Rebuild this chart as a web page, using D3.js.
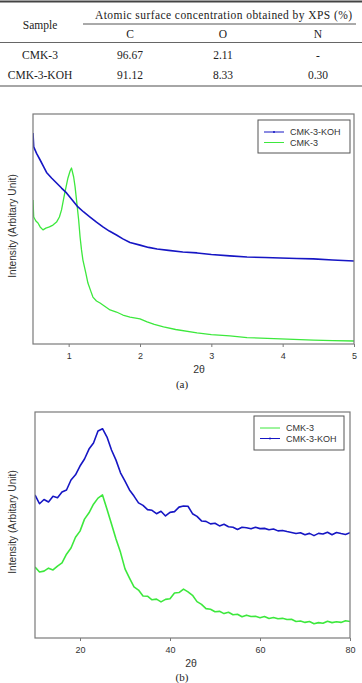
<!DOCTYPE html>
<html>
<head>
<meta charset="utf-8">
<script src="https://cdn.jsdelivr.net/npm/d3@7"></script>
<style>
  body { margin: 0; background: #fff; }
  svg { display: block; }
</style>
</head>
<body>
<div class="container"></div>
<script>
// table
var tableHead = ['C', 'O', 'N'];
var tableRows = [
  ['CMK-3', '96.67', '2.11', '-'],
  ['CMK-3-KOH', '91.12', '8.33', '0.30']
];

// (a) low angle XRD
var aTheta = [0.50, 0.51, 0.55, 0.60, 0.65, 0.69, 0.76, 0.83, 0.90, 0.97, 1.05, 1.13, 1.21, 1.30, 1.39, 1.48, 1.57, 1.67, 1.76, 1.86,
              2.00, 2.12, 2.24, 2.40, 2.60, 2.80, 3.00, 3.26, 3.50, 3.75, 3.97, 4.20, 4.43, 4.70, 5.00];
var aKoh = [91.7, 85.7, 82.9, 80.0, 77.0, 74.6, 72.2, 70.0, 67.8, 65.7, 62.6, 59.6, 57.4, 55.2, 53.0, 50.9, 49.1, 47.4, 45.7, 44.1,
            43.0, 42.0, 41.3, 40.7, 40.0, 39.6, 38.9, 38.3, 37.8, 37.6, 37.4, 37.2, 37.0, 36.5, 36.1];
var aThetaCmk = [0.50, 0.51, 0.54, 0.57, 0.60, 0.64, 0.68, 0.73, 0.78, 0.83, 0.87, 0.90, 0.94, 0.99, 1.02, 1.04, 1.07, 1.09, 1.11, 1.14,
                 1.16, 1.18, 1.20, 1.24, 1.27, 1.31, 1.34, 1.39, 1.44, 1.50, 1.58, 1.67, 1.76, 1.86, 2.00, 2.10, 2.20, 2.33, 2.50,
                 2.80, 3.00, 3.26, 3.50, 3.97, 4.43, 4.70, 5.00];
var aCmk = [62.6, 55.2, 53.5, 52.6, 50.9, 49.6, 50.4, 50.9, 51.7, 53.0, 55.2, 58.3, 64.8, 72.2, 75.2, 76.5, 72.6, 68.3, 62.6, 53.9,
            46.5, 40.9, 36.5, 30.9, 26.5, 23.0, 20.4, 18.7, 17.8, 16.5, 14.8, 13.9, 12.6, 11.7, 10.9, 9.6, 8.5, 7.4, 6.3,
            4.8, 4.1, 3.5, 2.8, 2.2, 1.7, 1.5, 1.3];
var aTicks = [1, 2, 3, 4, 5];

// (b) wide angle XRD
var bTheta = d3.range(10, 81);
var bCmk = [31.4, 29.2, 29.6, 30.9, 30.1, 31.8, 33.2, 37.1, 39.8, 44.6, 47.3, 52.6, 55.4, 59.2, 61.9, 63.3, 57.0, 50.4, 43.8, 37.9,
            30.6, 26.5, 22.6, 21.2, 18.6, 18.5, 16.9, 17.2, 16.0, 17.1, 17.4, 19.9, 20.1, 21.6, 20.4, 18.9, 16.1, 14.9, 13.0, 12.7,
            11.6, 11.8, 10.8, 11.4, 10.3, 10.5, 9.4, 10.1, 9.5, 9.6, 9.0, 9.5, 8.6, 9.1, 8.5, 8.7, 8.2, 8.3, 7.3, 7.5,
            6.9, 7.3, 6.3, 6.8, 6.5, 7.4, 6.8, 7.2, 6.9, 7.6, 7.3];
var bKoh = [63.3, 59.4, 61.3, 60.2, 62.7, 62.1, 64.6, 65.5, 69.9, 72.2, 76.1, 79.2, 83.6, 86.3, 91.6, 92.6, 88.9, 83.2, 78.7, 73.1,
            69.4, 65.5, 62.8, 59.8, 58.7, 56.8, 56.5, 55.0, 56.1, 54.0, 55.6, 55.9, 57.9, 58.4, 58.3, 55.0, 53.8, 51.8, 51.6, 50.5,
            50.8, 49.6, 50.3, 49.2, 49.0, 48.0, 49.0, 48.8, 48.3, 49.0, 48.4, 48.5, 47.9, 48.2, 47.4, 47.6, 47.1, 46.7, 46.2, 46.6,
            45.7, 46.3, 45.3, 46.3, 46.0, 46.8, 45.7, 46.7, 46.2, 45.8, 46.6];
var bTicks = [20, 40, 60, 80];

var blue = '#1616c4', green = '#3de83d', frame = '#7a7a7a';

var W = 362, H = 683;
var svg = d3.select('.container').append('svg')
    .attr('width', W).attr('height', H);

// ---- table ----
var serif = '"Liberation Serif", "Times New Roman", serif';
var colX = [40, 130, 223, 318];
svg.append('line').attr('x1', 0).attr('x2', W).attr('y1', 1.5).attr('y2', 1.5)
    .attr('stroke', '#444').attr('stroke-width', 2);
svg.append('line').attr('x1', 83).attr('x2', 356).attr('y1', 24).attr('y2', 24)
    .attr('stroke', '#555').attr('stroke-width', 1);
svg.append('line').attr('x1', 0).attr('x2', W).attr('y1', 42.5).attr('y2', 42.5)
    .attr('stroke', '#666').attr('stroke-width', 1);
svg.append('line').attr('x1', 0).attr('x2', W).attr('y1', 86).attr('y2', 86)
    .attr('stroke', '#888').attr('stroke-width', 1.5);

svg.append('text').attr('x', colX[0]).attr('y', 29)
    .attr('text-anchor', 'middle').attr('font-family', serif).attr('font-size', 11.5).attr('fill', '#222')
    .text('Sample');
svg.append('text').attr('x', 95).attr('y', 18.5)
    .attr('font-family', serif).attr('font-size', 11.5).attr('fill', '#222')
    .attr('textLength', 257).attr('lengthAdjust', 'spacing')
    .text('Atomic surface concentration obtained by XPS (%)');
svg.selectAll('.th').data(tableHead).enter().append('text')
    .attr('x', function(d, i) { return colX[i + 1]; }).attr('y', 38)
    .attr('text-anchor', 'middle').attr('font-family', serif).attr('font-size', 11.5).attr('fill', '#222')
    .text(function(d) { return d; });
tableRows.forEach(function(row, r) {
  svg.selectAll('.r' + r).data(row).enter().append('text')
      .attr('x', function(d, i) { return colX[i]; }).attr('y', 59 + r * 20)
      .attr('text-anchor', 'middle').attr('font-family', serif).attr('font-size', 11.5).attr('fill', '#222')
      .text(function(d) { return d; });
});

// ---- chart helper ----
var sans = '"Liberation Sans", Arial, sans-serif';
function drawPanel(opt) {
  var x = d3.scaleLinear().domain(opt.xDomain).range([opt.left, opt.right]);
  var y = d3.scaleLinear().domain([0, 100]).range([opt.bottom, opt.top]);
  var g = svg.append('g');
  var clipId = 'clip' + opt.name;
  g.append('clipPath').attr('id', clipId).append('rect')
      .attr('x', opt.left).attr('y', opt.top)
      .attr('width', opt.right - opt.left).attr('height', opt.bottom - opt.top);

  var line = d3.line().x(function(d) { return x(d[0]); }).y(function(d) { return y(d[1]); });
  opt.series.forEach(function(s) {
    g.append('path')
        .datum(d3.zip(s.x, s.y))
        .attr('clip-path', 'url(#' + clipId + ')')
        .attr('fill', 'none').attr('stroke', s.color).attr('stroke-width', s.width)
        .attr('stroke-linejoin', 'round')
        .attr('d', line);
  });

  g.append('rect').attr('x', opt.left).attr('y', opt.top)
      .attr('width', opt.right - opt.left).attr('height', opt.bottom - opt.top)
      .attr('fill', 'none').attr('stroke', frame).attr('stroke-width', 1.2);

  var axis = g.append('g').attr('transform', 'translate(0,' + opt.bottom + ')')
      .call(d3.axisBottom(x).tickValues(opt.ticks).tickFormat(d3.format('d')).tickSize(3).tickPadding(6));
  axis.select('.domain').remove();
  axis.selectAll('line').attr('stroke', frame);
  axis.selectAll('text').attr('font-family', sans).attr('font-size', 9).attr('fill', '#333');

  g.append('text').attr('x', opt.xLabelX).attr('y', opt.bottom + 29)
      .attr('text-anchor', 'middle').attr('font-family', sans).attr('font-size', 10.5).attr('fill', '#333')
      .text('2θ');
  g.append('text')
      .attr('transform', 'translate(16,' + opt.yLabelY + ') rotate(-90)')
      .attr('text-anchor', 'middle').attr('font-family', sans).attr('font-size', 10.2).attr('fill', '#333')
      .text('Intensity (Arbitary Unit)');
  g.append('text').attr('x', 182).attr('y', opt.captionY)
      .attr('text-anchor', 'middle').attr('font-family', serif).attr('font-size', 11).attr('fill', '#222')
      .text(opt.caption);

  // legend
  var lg = g.append('g');
  lg.append('rect').attr('x', opt.legend[0]).attr('y', opt.legend[1])
      .attr('width', opt.legend[2]).attr('height', opt.legend[3])
      .attr('fill', '#fff').attr('stroke', '#555').attr('stroke-width', 1);
  opt.legendItems.forEach(function(it, i) {
    var ly = opt.legend[1] + 12 + i * 10.5;
    var lx = opt.legend[0] + 6;
    lg.append('line').attr('x1', lx).attr('x2', lx + 20).attr('y1', ly).attr('y2', ly)
        .attr('stroke', it.color).attr('stroke-width', 1);
    if (it.dot) {
      lg.append('circle').attr('cx', lx + 10).attr('cy', ly).attr('r', 1).attr('fill', it.color);
    }
    lg.append('text').attr('x', lx + 26).attr('y', ly + 3.2)
        .attr('font-family', sans).attr('font-size', 9).attr('fill', '#333')
        .text(it.name);
  });
}

drawPanel({
  name: 'a', xDomain: [0.5, 5], left: 33, right: 354, top: 114, bottom: 344,
  ticks: aTicks, xLabelX: 199, yLabelY: 226, caption: '(a)', captionY: 388,
  series: [
    { x: aThetaCmk, y: aCmk, color: green, width: 1.3 },
    { x: aTheta, y: aKoh, color: blue, width: 1.6 }
  ],
  legend: [258, 120, 92, 33],
  legendItems: [{ name: 'CMK-3-KOH', color: blue, dot: true }, { name: 'CMK-3', color: green }]
});

drawPanel({
  name: 'b', xDomain: [10, 80], left: 35, right: 350, top: 412, bottom: 638,
  ticks: bTicks, xLabelX: 191, yLabelY: 522, caption: '(b)', captionY: 681,
  series: [
    { x: bTheta, y: bCmk, color: green, width: 1.6 },
    { x: bTheta, y: bKoh, color: blue, width: 1.6 }
  ],
  legend: [254, 416, 90, 34],
  legendItems: [{ name: 'CMK-3', color: green }, { name: 'CMK-3-KOH', color: blue, dot: true }]
});
</script>
</body>
</html>
